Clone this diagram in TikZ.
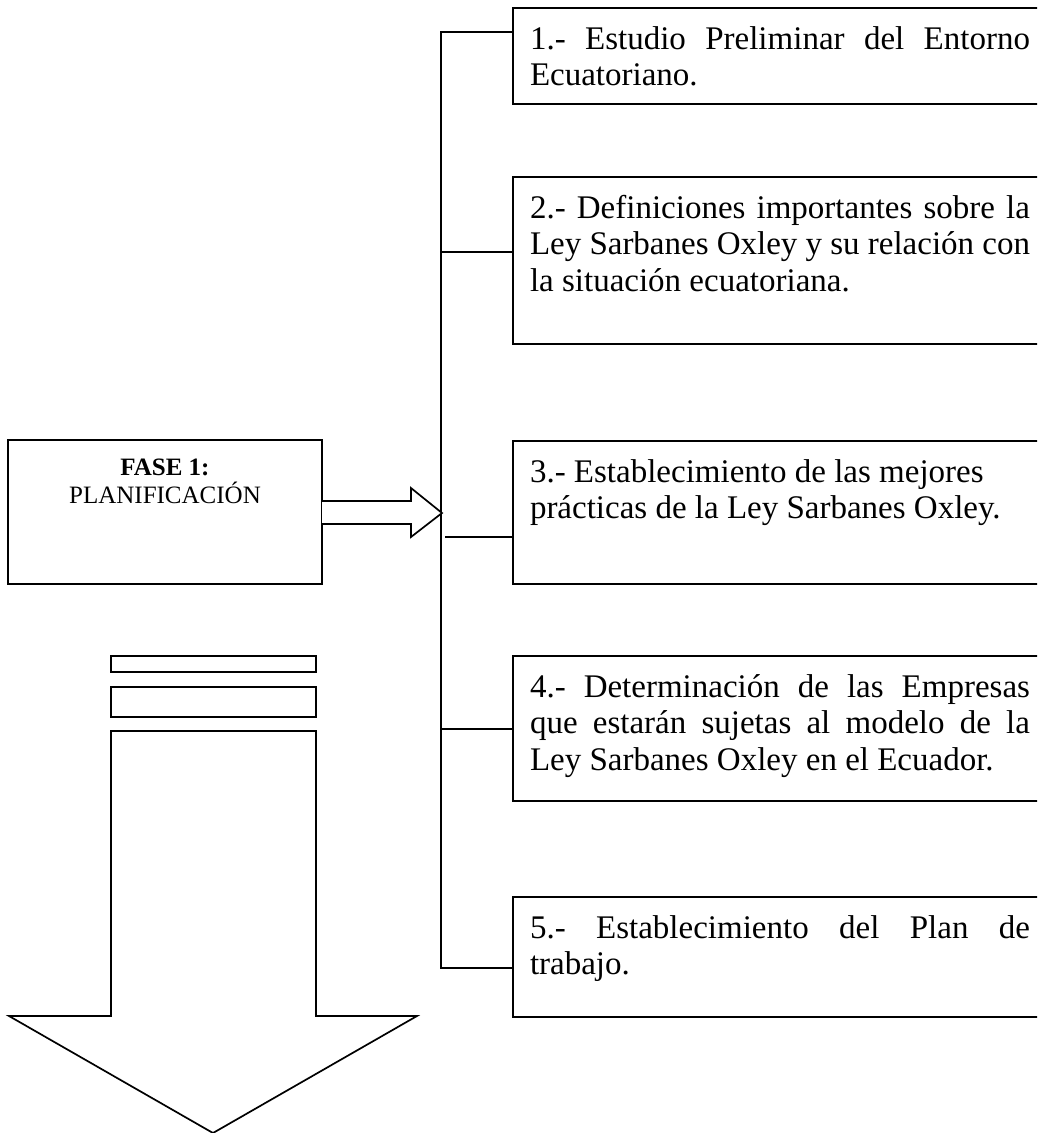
\documentclass[tikz,border=0pt]{standalone}
\usepackage{fontspec}
\setmainfont{Liberation Serif}
\begin{document}
\begin{tikzpicture}[x=1pt,y=-1pt,
  ln/.style={line width=1.7pt, line join=miter},
  itembox/.style={ln, draw, rectangle, anchor=north west, inner sep=0pt, outer sep=0pt, minimum width=560pt},
  itemtext/.style={anchor=base west, inner sep=0pt, outer sep=0pt, font=\fontsize{33}{36.5}\selectfont},
  fasetext/.style={anchor=base, inner sep=0pt, font=\fontsize{25}{28}\selectfont}]
\useasboundingbox (0,0) rectangle (1037,1133);
\clip (0,0) rectangle (1037,1133);
\hyphenpenalty=10000 \exhyphenpenalty=10000
% item boxes
\node[itembox, minimum height=96pt] (b1) at (513,8) {};
\node[itembox, minimum height=167pt] (b2) at (513,177) {};
\node[itembox, minimum height=143pt] (b3) at (513,441) {};
\node[itembox, minimum height=145pt] (b4) at (513,656) {};
\node[itembox, minimum height=120pt] (b5) at (513,897) {};
% texts
\node[itemtext] (t1) at (530,49) {\parbox[t]{500pt}{\parindent0pt\fontsize{33}{36.5}\selectfont 1.- Estudio Preliminar del Entorno\linebreak Ecuatoriano.}};
\node[itemtext] (t2) at (530,218) {\parbox[t]{500pt}{\parindent0pt\fontsize{33}{36.5}\selectfont 2.- Definiciones importantes sobre la\linebreak Ley Sarbanes Oxley y su relación con\linebreak la situación ecuatoriana.}};
\node[itemtext] (t3) at (530,482) {\parbox[t]{500pt}{\parindent0pt\raggedright\fontsize{33}{36.5}\selectfont 3.- Establecimiento de las mejores\\ prácticas de la Ley Sarbanes Oxley.}};
\node[itemtext] (t4) at (530,697) {\parbox[t]{500pt}{\parindent0pt\fontsize{33}{36.5}\selectfont 4.- Determinación de las Empresas\linebreak que estarán sujetas al modelo de la\linebreak Ley Sarbanes Oxley en el Ecuador.}};
\node[itemtext] (t5) at (530,938) {\parbox[t]{500pt}{\parindent0pt\fontsize{33}{36.5}\selectfont 5.- Establecimiento del Plan de\linebreak trabajo.}};
% trunk and connectors
\coordinate (j1) at (441,32);
\coordinate (j2) at (441,252);
\coordinate (j3) at (445,537);
\coordinate (j4) at (441,729);
\coordinate (j5) at (441,968);
\draw[ln] (j1 -| b1.west) -- (j1) -- (j5) -- (j5 -| b5.west);
\draw[ln] (j2) -- (j2 -| b2.west);
\draw[ln] (j3) -- (j3 -| b3.west);
\draw[ln] (j4) -- (j4 -| b4.west);
% fase box
\node[ln, draw, rectangle, anchor=north west, inner sep=0pt, outer sep=0pt, minimum width=314pt, minimum height=144pt] (f) at (8,440) {};
\node[fasetext] (f1) at (165,475) {\textbf{FASE 1:}};
\node[fasetext] (f2) at (165,503) {PLANIFICACIÓN};
% hollow arrow to trunk
\coordinate (tip) at (442,513);
\draw[ln, fill=white] (f.east |- 0,501) -- (411,501) -- (411,488) -- (tip) -- (411,537) -- (411,524) -- (f.east |- 0,524);
% down arrow with bars
\node[ln, draw, rectangle, anchor=north west, inner sep=0pt, outer sep=0pt, minimum width=205pt, minimum height=16pt] (r1) at (111,656) {};
\node[ln, draw, rectangle, anchor=north west, inner sep=0pt, outer sep=0pt, minimum width=205pt, minimum height=30pt] (r2) at (111,687) {};
\draw[ln] (111,731) -- (316,731) -- (316,1016) -- (417,1016) -- (213,1133) -- (9,1016) -- (111,1016) -- cycle;
\end{tikzpicture}
\end{document}
